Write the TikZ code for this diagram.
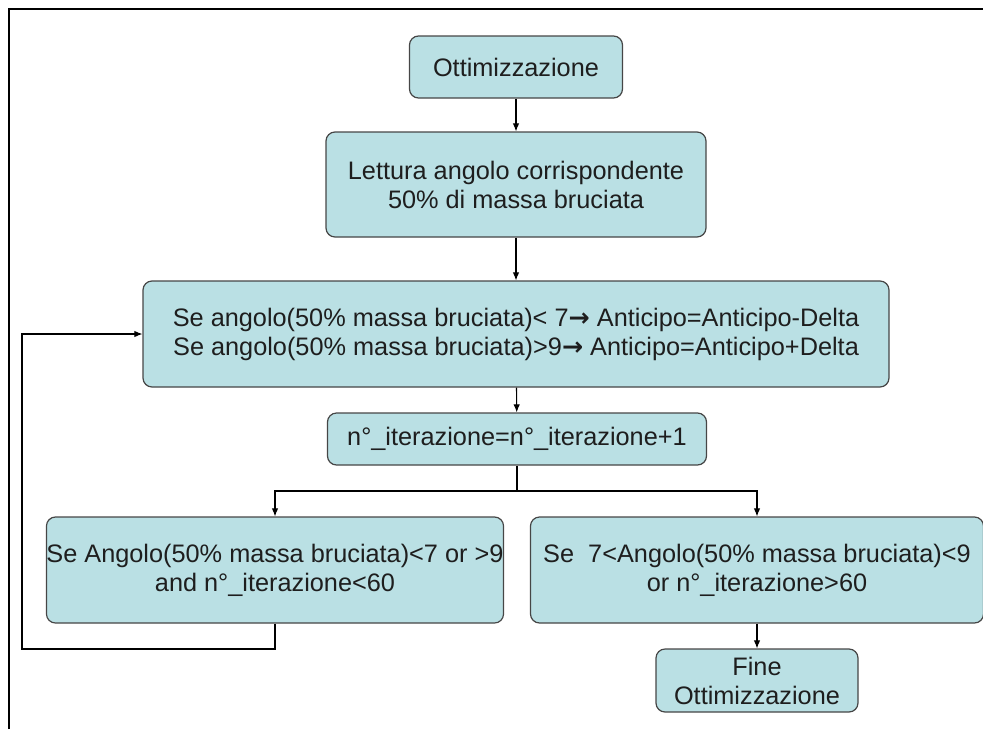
\documentclass[tikz,border=0pt]{standalone}
\usepackage{fontspec}
\setmainfont{Liberation Sans}
\newfontfamily\frecce{DejaVu Sans}
\usetikzlibrary{arrows.meta,calc}
\definecolor{boxfill}{RGB}{186,224,228}
\definecolor{boxline}{RGB}{70,70,70}
\definecolor{testo}{RGB}{30,30,30}
\tikzset{
  blocco/.style = {draw = boxline, fill = boxfill, rounded corners = 9pt, line width = 1.2pt,
    align = center, inner sep = 0pt, text = testo, font = \fontsize{25.3}{29}\selectfont},
  linea/.style = {draw, line width = 1.1pt},
  freccia/.style = {linea, -{Latex[length = 8pt, width = 6.5pt]}},
}
\newcommand{\implica}{{\frecce\bfseries →}}

\begin{document}
\begin{tikzpicture}[x = 1pt, y = -1pt]
  \useasboundingbox (0,0) rectangle (983,729);
  % cornice
  \path[draw, line width = 2.6pt](9,729)to(9,9)to(983,9);
  % blocchi
  \node[blocco, minimum width = 213pt, minimum height = 62pt](inizio)at(516,67){Ottimizzazione};
  \node[blocco, minimum width = 380pt, minimum height = 105pt](lettura)at(516,184.5)
    {Lettura angolo corrispondente\\50\% di massa bruciata};
  \node[blocco, minimum width = 746pt, minimum height = 106pt](anticipo)at(516,334)
    {Se angolo(50\% massa bruciata)< 7\implica{} Anticipo=Anticipo-Delta\\
     Se angolo(50\% massa bruciata)>9\implica{} Anticipo=Anticipo+Delta};
  \node[blocco, minimum width = 379pt, minimum height = 52pt](iter)at(517,439)
    {n°\_iterazione=n°\_iterazione+1};
  \node[blocco, minimum width = 456pt, minimum height = 106pt](ripeti)at(275,570)
    {Se Angolo(50\% massa bruciata)<7 or >9\\and n°\_iterazione<60};
  \node[blocco, minimum width = 453pt, minimum height = 106pt](esci)at(757,570)
    {Se\ \ 7<Angolo(50\% massa bruciata)<9\\or n°\_iterazione>60};
  \node[blocco, minimum width = 202pt, minimum height = 63pt](fine)at(757,680.5)
    {Fine\\Ottimizzazione};
  % collegamenti
  \path[freccia](inizio)to(lettura);
  \path[freccia](lettura)to(anticipo);
  \path[freccia](anticipo)to(iter);
  \coordinate(bivio)at(517,491);
  \path[linea](iter.south)to(bivio);
  \path[freccia](bivio)-|(ripeti.north);
  \path[freccia](bivio)-|(esci.north);
  \path[freccia](esci)to(fine);
  % ritorno al confronto
  \coordinate(ritorno)at(22,649);
  \path[freccia](ripeti.south)|-(ritorno)|-(anticipo.west);
\end{tikzpicture}
\end{document}
